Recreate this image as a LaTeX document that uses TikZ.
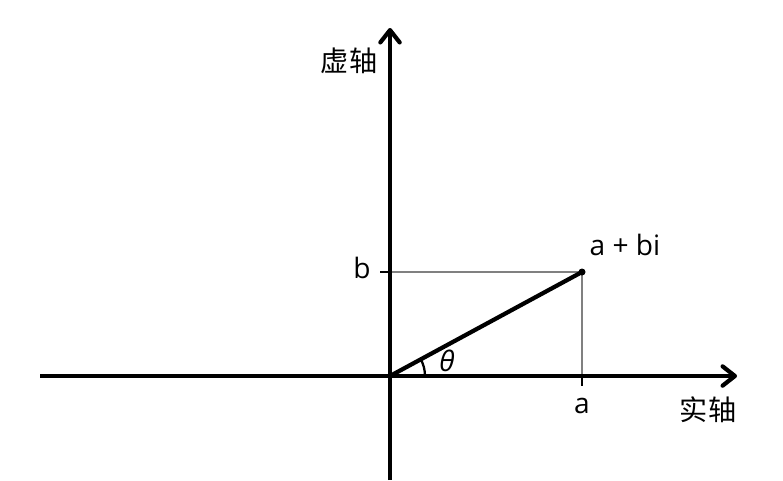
\documentclass[tikz,border=0pt]{standalone}
\usepackage{fontspec}
\setmainfont{Open Sans}
\newfontfamily\cjk{Noto Sans CJK SC}
\usetikzlibrary{arrows.meta}

\begin{document}
\begin{tikzpicture}[x=0.02cm, y=-0.02cm, font=\fontsize{16}{18}\selectfont,
  axis/.style={line width=2.4pt, -{Straight Barb[length=7pt, width=11pt, round]}},
  guide/.style={gray, line width=0.6pt}]
\useasboundingbox (0,0) rectangle (783,480);
\coordinate (O) at (390,376);
\coordinate (P) at (582,272);
\coordinate (xl) at (40,376);
\coordinate (xr) at (737,376);
\coordinate (yb) at (390,480);
\coordinate (yt) at (390,28);
\coordinate (tb) at (380,272);
\coordinate (ta) at (582,386);
% guides
\draw[guide] (O |- P) -- (P) -- (O -| P);
% axes
\draw[axis] (xl) -- (xr);
\draw[axis] (yb) -- (yt);
\draw[line width=1.6pt] (tb) -- (O |- P);
\draw[line width=1.6pt] (O -| P) -- (ta);
% vector
\draw[line width=2.4pt] (O) -- (P);
\fill (P) circle[radius=3.5];
\draw[line width=1.3pt] ([shift={(35,0)}]O) arc[start angle=0, end angle=-28.4, radius=35];
% labels
\node (lim) at (349,61) {\cjk 虚轴};
\node (lre) at (708,410) {\cjk 实轴};
\node (lb) at (362,268) {b};
\node (la) at (582,406) {a};
\node (lp) at (625,245) {a + bi};
\node (lt) at (447,361) {\itshape θ};
\end{tikzpicture}
\end{document}
